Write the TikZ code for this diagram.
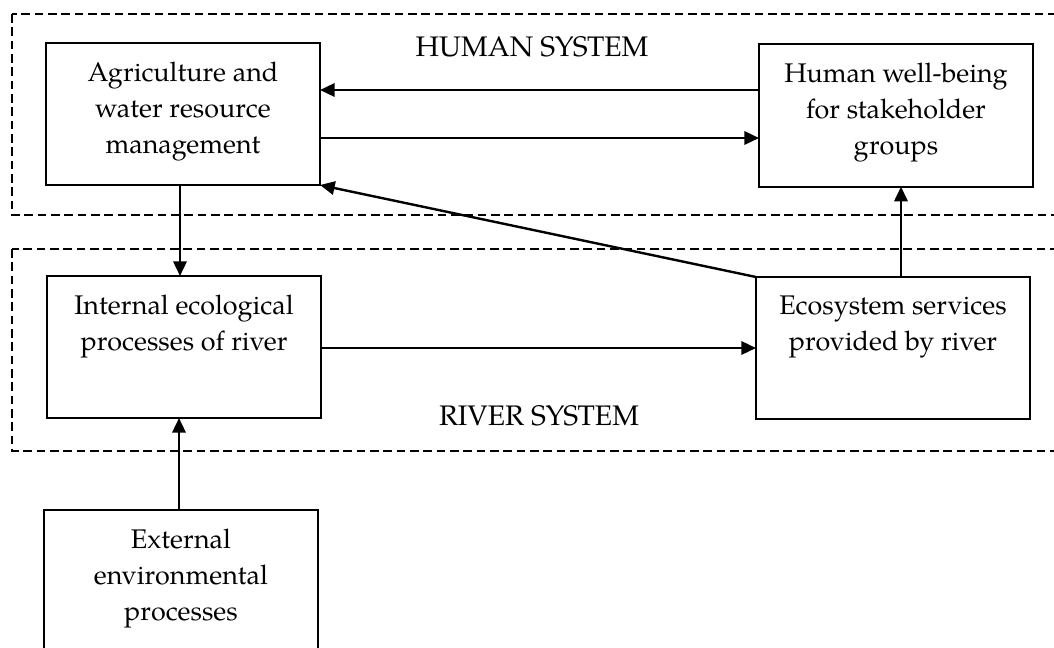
\documentclass[tikz,border=0pt]{standalone}
\usepackage{fontspec}
\setmainfont{TeX Gyre Pagella}
\usetikzlibrary{arrows.meta}
\newcommand\bxtext[3]{\parbox[c][#2][t]{#1}{\centering\vspace*{14pt}#3\par}}
\begin{document}
\begin{tikzpicture}[x=0.75pt,y=-0.75pt,
  box/.style={draw,line width=1.5pt,inner sep=0pt,outer sep=0pt,anchor=north west,font=\fontsize{20.2}{27}\selectfont},
  arr/.style={-{Triangle[length=11pt,width=10pt]},line width=1.8pt},
  zone/.style={draw,dash pattern=on 6.5pt off 3.5pt,line width=1.2pt},
  lbl/.style={font=\fontsize{21.2}{27}\selectfont}]
\useasboundingbox (0,0) rectangle (1054,647);
\clip (0,0) rectangle (1054,647);
\draw[zone] (12,14) rectangle (1080,215);
\draw[zone] (12,249) rectangle (1080,451);
\node[lbl] (hs) at (532,47) {HUMAN SYSTEM};
\node[lbl] (rs) at (539,416) {RIVER SYSTEM};
\node[box] (agri) at (46,43) {\bxtext{205.5pt}{106.5pt}{Agriculture and\\ water resource\\ management}};
\node[box] (hum) at (759,44) {\bxtext{205.5pt}{107pt}{Human well-being\\ for stakeholder\\ groups}};
\node[box] (int) at (47,276) {\bxtext{205.5pt}{106.5pt}{Internal ecological\\ processes of river}};
\node[box] (eco) at (756,277) {\bxtext{205.5pt}{106.5pt}{Ecosystem services\\ provided by river}};
\node[box] (ext) at (44,510) {\bxtext{205.5pt}{120pt}{External\\ environmental\\ processes}};
\coordinate (y90) at (0,90);
\coordinate (y138) at (0,138);
\coordinate (y348) at (0,348);
\coordinate (x180) at (180,0);
\coordinate (x901) at (901,0);
\coordinate (x179) at (179,0);
\draw[arr] (hum.west |- y90) -- (agri.east |- y90);
\draw[arr] (agri.east |- y138) -- (hum.west |- y138);
\draw[arr] (eco.north west) -- (agri.south east);
\draw[arr] (x180 |- agri.south) -- (x180 |- int.north);
\draw[arr] (int.east |- y348) -- (eco.west |- y348);
\draw[arr] (x901 |- eco.north) -- (x901 |- hum.south);
\draw[arr] (x179 |- ext.north) -- (x179 |- int.south);
\end{tikzpicture}
\end{document}
